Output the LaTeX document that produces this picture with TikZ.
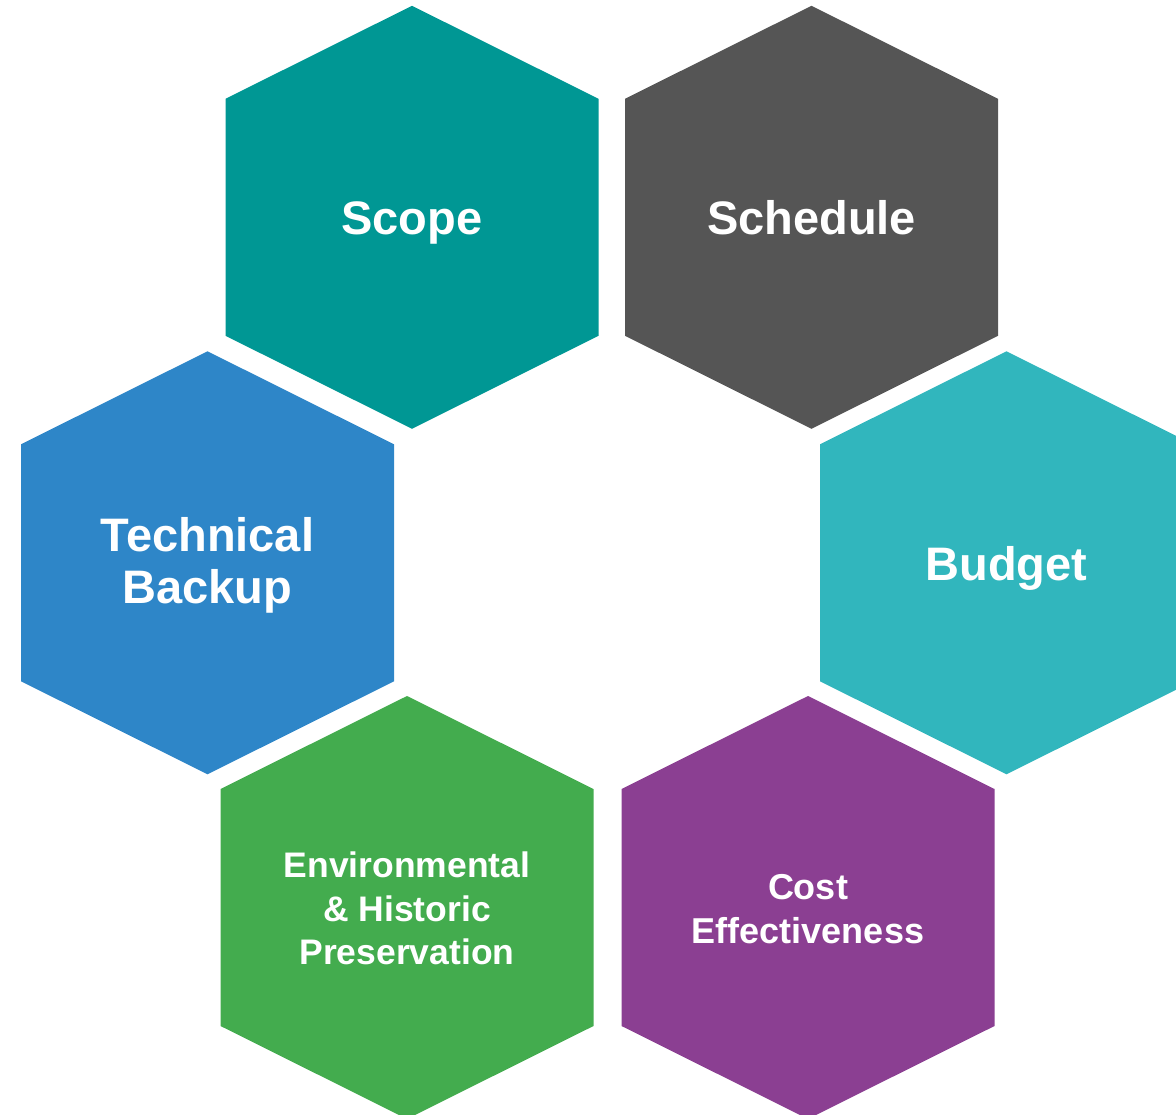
\documentclass[tikz,border=0pt]{standalone}
\usepackage{fontspec}
\setmainfont{Liberation Sans}
\definecolor{cscope}{HTML}{009794}
\definecolor{csched}{HTML}{555555}
\definecolor{ctech}{HTML}{2E86C8}
\definecolor{cbudget}{HTML}{31B6BD}
\definecolor{cenv}{HTML}{43AC4E}
\definecolor{ccost}{HTML}{8B3F92}
\tikzset{
  hexlabel/.style={text=white, font=\bfseries, align=center, inner sep=0pt},
  bigtext/.style={font=\fontsize{47}{52}\selectfont\bfseries},
  smalltext/.style={font=\fontsize{35.5}{43.5}\selectfont\bfseries},
}
% \hexcell{name}{cx}{cy}{colour}
\newcommand{\hexcell}[4]{%
  \coordinate (#1) at (#2pt,-#3pt);
  \fill[#4] ([shift={(0pt,211.5pt)}]#1) -- ([shift={(186.5pt,118.5pt)}]#1)
    -- ([shift={(186.5pt,-118.5pt)}]#1) -- ([shift={(0pt,-211.5pt)}]#1)
    -- ([shift={(-186.5pt,-118.5pt)}]#1) -- ([shift={(-186.5pt,118.5pt)}]#1) -- cycle;
}
\begin{document}
\begin{tikzpicture}[x=1pt,y=1pt]
\useasboundingbox (0,0) rectangle (1176,-1115);
\begin{scope}
\clip (0,0) rectangle (1176,-1115);
\hexcell{hscope}{412}{217.3}{cscope}
\hexcell{hsched}{811.5}{217.3}{csched}
\hexcell{htech}{207.5}{562.8}{ctech}
\hexcell{hbudget}{1006.5}{562.8}{cbudget}
\hexcell{henv}{407}{907.5}{cenv}
\hexcell{hcost}{808}{907.5}{ccost}
\end{scope}
\node[hexlabel, bigtext, anchor=base] (tscope) at (412,-235) {Scope};
\node[hexlabel, bigtext, anchor=base] (tsched) at (811.5,-235) {Schedule};
\node[hexlabel, bigtext, anchor=base] (tbudget) at (1006.5,-580) {Budget};
\node[hexlabel, bigtext] (ttech) at (207.5,-565) {Technical\\Backup};
\node[hexlabel, smalltext] (tenv) at (407,-908.5) {Environmental\\\& Historic\\Preservation};
\node[hexlabel, smalltext, font=\fontsize{36}{44}\selectfont\bfseries] (tcost) at (808,-909.5) {Cost\\Effectiveness};
\end{tikzpicture}
\end{document}
